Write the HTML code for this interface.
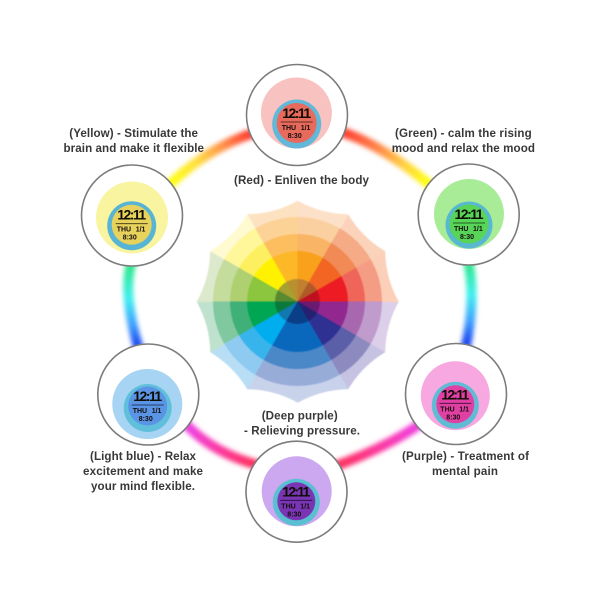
<!DOCTYPE html>
<html>
<head>
<meta charset="utf-8">
<style>
html,body{margin:0;padding:0;background:#fff;width:600px;height:600px;overflow:hidden}
#stage{position:relative;width:600px;height:600px;background:#fff}
svg.layer{position:absolute;left:0;top:0}
#wheel{position:absolute;left:192.7px;top:196.7px;width:210px;height:210px;filter:blur(.4px)}
#clip{position:absolute;left:0;top:0;width:210px;height:210px;clip-path:path('M105 4Q128.55 17.1 155.5 17.5Q169.35 40.65 192.5 54.5Q192.9 81.45 206 105Q192.9 128.55 192.5 155.5Q169.35 169.35 155.5 192.5Q128.55 192.9 105 206Q81.45 192.9 54.5 192.5Q40.65 169.35 17.5 155.5Q17.1 128.55 4 105Q17.1 81.45 17.5 54.5Q40.65 40.65 54.5 17.5Q81.45 17.1 105 4Z')}
.r{position:absolute;border-radius:50%}
#r4{left:0;top:0;width:210px;height:210px;border-radius:0;background:conic-gradient(#fde0c8 0 30deg,#fbd3bb 0 60deg,#fcd0b8 0 90deg,#dccfe9 0 120deg,#c6c2e2 0 150deg,#c8d2ea 0 210deg,#b8def6 0 240deg,#bfe2cf 0 270deg,#dce9cc 0 300deg,#fffad0 0 330deg,#fde2c2 0 360deg)}
#r3{left:20.7px;top:20.7px;width:168.6px;height:168.6px;background:conic-gradient(#fbd0a0 0 30deg,#f4ab86 0 60deg,#f59c85 0 90deg,#c09ccc 0 120deg,#8d8ac0 0 150deg,#98acd8 0 210deg,#8fcaf0 0 240deg,#80c8a0 0 270deg,#c4dc9c 0 300deg,#fff79a 0 330deg,#fcd296 0 360deg)}
#r2{left:37.7px;top:37.7px;width:134.6px;height:134.6px;background:conic-gradient(#f9b466 0 30deg,#f18a55 0 60deg,#f0655a 0 90deg,#a868b0 0 120deg,#5b5fa8 0 150deg,#4a88c8 0 210deg,#38b4ec 0 240deg,#3fb078 0 270deg,#aed070 0 300deg,#fdf060 0 330deg,#fdbe60 0 360deg)}
#r1{left:54.3px;top:54.3px;width:101.4px;height:101.4px;background:conic-gradient(#f9a11b 0 30deg,#f26522 0 60deg,#ed1c24 0 90deg,#92278f 0 120deg,#2e3192 0 150deg,#0a68bc 0 210deg,#00aeef 0 240deg,#00a651 0 270deg,#8cc63f 0 300deg,#fff200 0 330deg,#fdb827 0 360deg)}
#r0{left:82.5px;top:82.5px;width:45px;height:45px;background:conic-gradient(#c08030 0 30deg,#b05a28 0 60deg,#c01020 0 90deg,#6a1a70 0 120deg,#252070 0 150deg,#0a3f88 0 210deg,#107ab0 0 240deg,#0a7a3c 0 270deg,#5a8a30 0 300deg,#a8a030 0 330deg,#b89030 0 360deg)}
text{font-family:"Liberation Sans",sans-serif}
.lb{font-weight:bold;font-size:11.6px;fill:#383838}
.t{font-size:14px;font-weight:bold;fill:#0c0806;text-anchor:middle}
.s{font-size:7px;font-weight:bold;fill:#120c08}
</style>
</head>
<body>
<div id="stage">
<svg class="layer" width="600" height="600" viewBox="0 0 600 600">
<defs>
<filter id="g" x="-30%" y="-30%" width="160%" height="160%"><feGaussianBlur stdDeviation="2.4"/></filter>
<filter id="b" x="-10%" y="-10%" width="120%" height="120%"><feGaussianBlur stdDeviation=".35"/></filter>
<linearGradient id="a1" gradientUnits="userSpaceOnUse" x1="172" y1="183" x2="248" y2="135"><stop offset="0" stop-color="#ffff10"/><stop offset=".35" stop-color="#ffe040"/><stop offset=".7" stop-color="#ff9048"/><stop offset="1" stop-color="#ff4030"/></linearGradient>
<linearGradient id="a2" gradientUnits="userSpaceOnUse" x1="345" y1="133" x2="427" y2="182"><stop offset="0" stop-color="#ff4030"/><stop offset=".35" stop-color="#ff8048"/><stop offset=".7" stop-color="#ffd040"/><stop offset="1" stop-color="#ffff10"/></linearGradient>
<linearGradient id="a3" gradientUnits="userSpaceOnUse" x1="132" y1="268" x2="137" y2="343"><stop offset="0" stop-color="#30e890"/><stop offset=".4" stop-color="#40f0f0"/><stop offset=".75" stop-color="#40a0ff"/><stop offset="1" stop-color="#2050f0"/></linearGradient>
<linearGradient id="a4" gradientUnits="userSpaceOnUse" x1="468" y1="265" x2="467" y2="340"><stop offset="0" stop-color="#30e890"/><stop offset=".4" stop-color="#40f0f0"/><stop offset=".75" stop-color="#40a0ff"/><stop offset="1" stop-color="#2050f0"/></linearGradient>
<linearGradient id="a5" gradientUnits="userSpaceOnUse" x1="190" y1="428" x2="253" y2="463"><stop offset="0" stop-color="#f040e0"/><stop offset=".5" stop-color="#fb38a0"/><stop offset="1" stop-color="#ff3060"/></linearGradient>
<linearGradient id="a6" gradientUnits="userSpaceOnUse" x1="340" y1="465" x2="418" y2="428"><stop offset="0" stop-color="#ff3060"/><stop offset=".5" stop-color="#fb38a0"/><stop offset="1" stop-color="#f040e0"/></linearGradient>
</defs>
<g fill="none" stroke-width="10" filter="url(#g)">
<path d="M164 190Q208 146 260 131" stroke="url(#a1)"/>
<path d="M335 130Q380 142 436 190" stroke="url(#a2)"/>
<path d="M133 258Q121 288 139 350" stroke="url(#a3)"/>
<path d="M467 255Q477 298 465 350" stroke="url(#a4)"/>
<path d="M182 420Q212 454 262 466" stroke="url(#a5)"/>
<path d="M330 468Q387 448 426 420" stroke="url(#a6)"/>
</g>
<g fill="#fff" stroke="#7c7c7c" stroke-width="1.6">
<circle cx="297" cy="115" r="50.5"/>
<circle cx="132" cy="215.5" r="50.5"/>
<circle cx="468.7" cy="214.5" r="50.5"/>
<circle cx="148.3" cy="394.5" r="50.5"/>
<circle cx="456" cy="394" r="50.5"/>
<circle cx="296.5" cy="491.7" r="50.5"/>
</g>
<g filter="url(#b)">
<!-- red -->
<circle cx="296.4" cy="113" r="35.5" fill="#f8c2c0"/>
<g transform="translate(296.7 124)"><circle r="24.5" fill="#62b8d8"/><circle cy="-1" r="20" fill="#e86a5c"/>
<text class="t" y="-6" textLength="29">12:11</text><path d="M-16-2H16" stroke="#3a1a10" stroke-width=".8"/>
<text class="s" x="-15" y="6">THU</text><text class="s" x="4" y="6">1/1</text><text class="s" x="-9" y="14">8:30</text></g>
<!-- yellow -->
<circle cx="132" cy="217.5" r="36" fill="#f8f4a0"/>
<g transform="translate(131.7 225.7)"><circle r="24.5" fill="#58b4d4"/><circle cy="-1" r="20" fill="#e6d25c"/>
<text class="t" y="-6" textLength="29">12:11</text><path d="M-16-2H16" stroke="#3a3010" stroke-width=".8"/>
<text class="s" x="-15" y="6">THU</text><text class="s" x="4" y="6">1/1</text><text class="s" x="-9" y="14">8:30</text></g>
<!-- green -->
<circle cx="469" cy="214" r="35" fill="#a8ec98"/>
<g transform="translate(469 225)"><circle r="23.5" fill="#58b8d0"/><circle cy="-1" r="19.5" fill="#58d458"/>
<text class="t" y="-6" textLength="29">12:11</text><path d="M-16-2H16" stroke="#103a10" stroke-width=".8"/>
<text class="s" x="-15" y="6">THU</text><text class="s" x="4" y="6">1/1</text><text class="s" x="-9" y="14">8:30</text></g>
<!-- light blue -->
<circle cx="147.3" cy="404" r="35" fill="#a8d4f4"/>
<g transform="translate(147.7 408)"><circle r="24" fill="#60c0dc"/><circle cy="-2" r="19.5" fill="#5a94e4"/>
<text class="t" y="-7" textLength="29">12:11</text><path d="M-16-3H16" stroke="#102040" stroke-width=".8"/>
<text class="s" x="-15" y="5">THU</text><text class="s" x="4" y="5">1/1</text><text class="s" x="-9" y="13">8:30</text></g>
<!-- purple -->
<circle cx="455.3" cy="395.7" r="34.5" fill="#f8a8e0"/>
<g transform="translate(455.3 405.3)"><circle r="23.5" fill="#60bcd4"/><circle cy="-1" r="19" fill="#e040a4"/>
<text class="t" y="-6" textLength="28">12:11</text><path d="M-16-2H16" stroke="#3a1030" stroke-width=".8"/>
<text class="s" x="-15" y="6">THU</text><text class="s" x="4" y="6">1/1</text><text class="s" x="-9" y="14">8:30</text></g>
<!-- deep purple -->
<circle cx="296.7" cy="491.3" r="35" fill="#cca8f0"/>
<g transform="translate(296.3 502.3)"><circle r="23.5" fill="#58c0d0"/><circle cy="-1" r="19" fill="#7a34b4"/>
<text class="t" y="-6" textLength="28">12:11</text><path d="M-16-2H16" stroke="#200a40" stroke-width=".8"/>
<text class="s" x="-15" y="6">THU</text><text class="s" x="4" y="6">1/1</text><text class="s" x="-9" y="14">8:30</text></g>
</g>
</svg>
<div id="wheel"><div id="clip">
<div class="r" id="r4"></div><div class="r" id="r3"></div><div class="r" id="r2"></div><div class="r" id="r1"></div><div class="r" id="r0"></div>
</div></div>
<svg class="layer" width="600" height="600" viewBox="0 0 600 600">
<defs><filter id="b2" x="-5%" y="-5%" width="110%" height="110%"><feGaussianBlur stdDeviation=".25"/></filter></defs>
<g filter="url(#b2)">
<text class="lb" x="69.3" y="137" textLength="128.7">(Yellow) - Stimulate the</text>
<text class="lb" x="63.5" y="152" textLength="140.5">brain and make it flexible</text>
<text class="lb" x="395" y="137" textLength="136.7">(Green) - calm the rising</text>
<text class="lb" x="391.7" y="152" textLength="143.3">mood and relax the mood</text>
<text class="lb" x="234" y="184" textLength="135">(Red) - Enliven the body</text>
<text class="lb" x="261.7" y="419.5" textLength="76">(Deep purple)</text>
<text class="lb" x="244" y="434.5" textLength="116">- Relieving pressure.</text>
<text class="lb" x="90" y="460" textLength="106">(Light blue) - Relax</text>
<text class="lb" x="83" y="475" textLength="120">excitement and make</text>
<text class="lb" x="91" y="490" textLength="104">your mind flexible.</text>
<text class="lb" x="402" y="460" textLength="127">(Purple) - Treatment of</text>
<text class="lb" x="432" y="475" textLength="66">mental pain</text>
</g>
</svg>
</div>
</body>
</html>
